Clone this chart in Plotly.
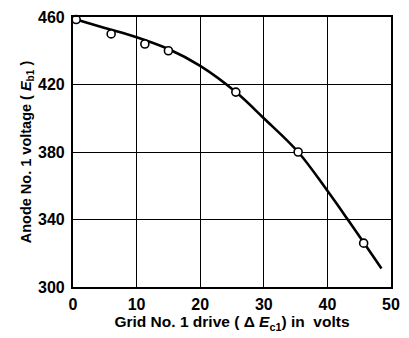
import plotly.graph_objects as go

# Measured operating points
drive_pts = [0.5, 6.0, 11.3, 15.0, 25.6, 35.4, 45.7]
anode_pts = [458.5, 450.0, 444.0, 440.0, 415.5, 380.0, 326.0]

# Faired curve through the measurements
drive_curve = [0.5, 5, 10, 15, 20, 25.6, 30, 35.4, 40, 43.2, 48.5]
anode_curve = [458.5, 453.5, 448, 441, 431, 415.5, 400, 380, 357, 340, 311]

x_ticks = [0, 10, 20, 30, 40, 50]
y_ticks = [300, 340, 380, 420, 460]

FONT = "Liberation Sans"
NB = "\u00a0"

fig = go.Figure()
fig.add_trace(go.Scatter(
    x=drive_curve, y=anode_curve, mode="lines",
    line=dict(color="black", width=2.6, shape="spline", smoothing=1.0),
    hoverinfo="skip", showlegend=False,
))
fig.add_trace(go.Scatter(
    x=drive_pts, y=anode_pts, mode="markers",
    marker=dict(symbol="circle", size=8, color="white",
                line=dict(color="black", width=1.6)),
    cliponaxis=False, showlegend=False,
))

axis_common = dict(
    showgrid=True, gridcolor="black", gridwidth=1.4,
    showline=True, linecolor="black", linewidth=2.2, mirror=True,
    zeroline=False, ticks="",
    tickfont=dict(family=FONT, size=16, color="black", weight="bold"),
)

fig.update_xaxes(
    range=[0, 50], tickvals=x_ticks, ticktext=[str(v) for v in x_ticks],
    title=dict(text=f"Grid No. 1 drive ({NB}Δ{NB}<i>E</i><sub>c1</sub>) in{NB}{NB}volts",
               font=dict(family=FONT, size=15.5, color="black", weight="bold"),
               standoff=3),
    ticklabelstandoff=2,
    **axis_common,
)
fig.update_yaxes(
    range=[300, 460], tickvals=y_ticks, ticktext=[str(v) for v in y_ticks],
    title=dict(text=f"Anode No. 1 voltage ({NB}<i>E</i><sub>b1</sub>{NB})",
               font=dict(family=FONT, size=14.5, color="black", weight="bold"),
               standoff=3),
    ticklabelstandoff=3,
    **axis_common,
)

fig.update_layout(
    width=409, height=338,
    margin=dict(l=73, r=9, t=16, b=51),
    paper_bgcolor="white", plot_bgcolor="white",
)

fig.write_html("out.html")
